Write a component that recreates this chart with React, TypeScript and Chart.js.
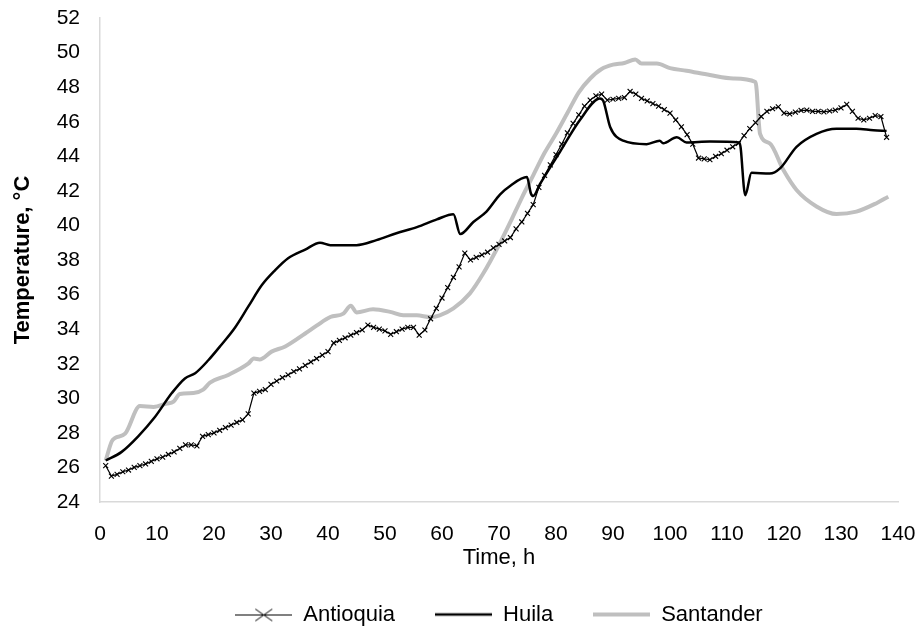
import React, { useEffect, useRef } from "react";
import { Chart, registerables } from "chart.js";

Chart.register(...registerables);

const seriesNames = ["Antioquia", "Huila", "Santander"];

const antioquiaTime = [
  1, 2, 3, 4, 5, 6, 7, 8, 9, 10, 11, 12, 13, 14, 15, 16, 17, 18, 19, 20,
  21, 22, 23, 24, 25, 26, 27, 28, 29, 30, 31, 32, 33, 34, 35, 36, 37, 38, 39, 40,
  41, 42, 43, 44, 45, 46, 47, 48, 49, 50, 51, 52, 53, 54, 55, 56, 57, 58, 59, 60,
  61, 62, 63, 64, 65, 66, 67, 68, 69, 70, 71, 72, 73, 74, 75, 76, 77, 78, 79, 80,
  81, 82, 83, 84, 85, 86, 87, 88, 89, 90, 91, 92, 93, 94, 95, 96, 97, 98, 99, 100,
  101, 102, 103, 104, 105, 106, 107, 108, 109, 110, 111, 112, 113, 114, 115, 116, 117, 118, 119, 120,
  121, 122, 123, 124, 125, 126, 127, 128, 129, 130, 131, 132, 133, 134, 135, 136, 137, 138,
];
const antioquiaTemp = [
  26.1, 25.5, 25.6, 25.75, 25.85, 26.0, 26.1, 26.2, 26.35, 26.5, 26.6, 26.75, 26.9, 27.1, 27.3, 27.3, 27.25, 27.8, 27.9, 28.0,
  28.15, 28.3, 28.45, 28.6, 28.75, 29.1, 30.3, 30.4, 30.5, 30.8, 31.0, 31.2, 31.35, 31.55, 31.7, 31.9, 32.1, 32.3, 32.5, 32.7,
  33.2, 33.35, 33.5, 33.65, 33.8, 33.95, 34.24, 34.1, 34.0, 33.9, 33.7, 33.85, 34.0, 34.1, 34.1, 33.65, 33.95, 34.6, 35.2, 35.8,
  36.4, 37.0, 37.6, 38.4, 38.0, 38.15, 38.3, 38.45, 38.7, 38.9, 39.1, 39.3, 39.8, 40.2, 40.7, 41.2, 42.2, 42.9, 43.5, 44.1,
  44.7, 45.35, 45.9, 46.4, 46.9, 47.25, 47.5, 47.6, 47.25, 47.3, 47.35, 47.4, 47.75, 47.6, 47.35, 47.2, 47.05, 46.9, 46.7, 46.5,
  46.1, 45.7, 45.25, 44.7, 43.9, 43.85, 43.8, 44.0, 44.15, 44.35, 44.55, 44.75, 45.2, 45.6, 45.95, 46.3, 46.6, 46.75, 46.86, 46.5,
  46.45, 46.55, 46.65, 46.67, 46.6, 46.6, 46.57, 46.62, 46.67, 46.8, 47.0, 46.6, 46.2, 46.1, 46.2, 46.35, 46.3, 45.1,
];

const huilaTime = [
  1, 3.8, 6.7, 9.6, 12.6, 14.9, 16.7, 19, 21.3, 23.7, 26, 28.4, 30.7, 33, 36, 38.6, 40.4, 45, 48.5, 52,
  55.6, 59.1, 62, 63.2, 65.5, 67.8, 70.2, 72, 74.9, 75.6, 76, 77.2, 80.7, 84.2, 87.7, 88.3, 89.5, 91.8, 95.9, 98.2,
  98.8, 101.2, 102.9, 107, 112.2, 113.2, 114.3, 117.5, 119.3, 122.2, 125.7, 129.2, 132.7, 135.7, 138,
];
const huilaTemp = [
  26.4, 26.9, 27.8, 28.9, 30.3, 31.15, 31.45, 32.2, 33.1, 34.1, 35.3, 36.55, 37.4, 38.1, 38.6, 39.0, 38.86, 38.86, 39.15, 39.55,
  39.9, 40.35, 40.65, 39.5, 40.2, 40.8, 41.8, 42.3, 42.8, 41.85, 41.7, 42.4, 44.26, 46.1, 47.35, 47.2, 45.7, 44.9, 44.7, 44.9,
  44.75, 45.1, 44.8, 44.85, 44.8, 41.75, 43.05, 43.0, 43.3, 44.55, 45.3, 45.6, 45.6, 45.5, 45.47,
];

const santanderTime = [
  1, 2.05, 2.6, 4.4, 7, 9.4, 11.7, 12.9, 14, 16.4, 18.1, 19.3, 22.5, 26, 27, 28, 30.1, 32.5, 36, 38,
  40.4, 42.7, 44, 45, 47.9, 50.9, 53.2, 55.6, 57.9, 59.6, 62, 64.9, 67.2, 70.2, 72, 74, 76, 78, 80, 82,
  84, 86, 88, 90, 92, 93.9, 95, 97.7, 100, 102.9, 107, 111.1, 115, 115.8, 117.5, 119.9, 122.2, 125.7, 129.2, 132.7,
  136.3, 138.3,
];
const santanderTemp = [
  26.4, 27.5, 27.7, 27.95, 29.55, 29.5, 29.7, 29.8, 30.25, 30.3, 30.5, 30.9, 31.35, 32.0, 32.3, 32.25, 32.7, 33.0, 33.75, 34.2,
  34.7, 34.9, 35.35, 34.97, 35.15, 35.0, 34.8, 34.8, 34.7, 34.8, 35.2, 36.07, 37.2, 39.0, 40.2, 41.6, 42.9, 44.2, 45.3, 46.5,
  47.7, 48.5, 49.05, 49.3, 49.4, 49.6, 49.37, 49.37, 49.1, 48.95, 48.7, 48.5, 48.3, 45.3, 44.75, 43.2, 42.05, 41.1, 40.66, 40.8,
  41.3, 41.66,
];

const xMin = 0;
const xMax = 140;
const xStep = 10;
const yMin = 24;
const yMax = 52;
const yStep = 2;

const xTitle = "Time, h";
const yTitle = "Temperature, °C";

const FONT = "'Liberation Sans', Arial, sans-serif";

function makeIcon(color: string, lw: number, marker: boolean) {
  const c = document.createElement("canvas");
  c.width = 57;
  c.height = 17;
  const ctx = c.getContext("2d")!;
  ctx.strokeStyle = color;
  ctx.lineWidth = lw;
  const mid = lw % 2 === 1 ? 8.5 : 8;
  ctx.beginPath();
  ctx.moveTo(0, mid);
  ctx.lineTo(57, mid);
  ctx.stroke();
  if (marker) {
    ctx.lineWidth = 1;
    ctx.beginPath();
    ctx.moveTo(20, 2.5);
    ctx.lineTo(37, 14.5);
    ctx.moveTo(37, 2.5);
    ctx.lineTo(20, 14.5);
    ctx.stroke();
  }
  return c;
}

export default function App() {
  const ref = useRef<HTMLCanvasElement>(null);

  useEffect(() => {
    if (!ref.current) return;
    const icons = [
      makeIcon("#000000", 1, true),
      makeIcon("#000000", 2.5, false),
      makeIcon("#bfbfbf", 4, false),
    ];
    const toPts = (xs: number[], ys: number[]) => xs.map((x, i) => ({ x, y: ys[i] }));

    const chart = new Chart(ref.current, {
      type: "line",
      data: {
        datasets: [
          {
            label: seriesNames[0],
            data: toPts(antioquiaTime, antioquiaTemp),
            borderColor: "#000000",
            backgroundColor: "#000000",
            borderWidth: 1.2,
            pointStyle: "crossRot",
            pointRadius: 3.5,
            pointBorderWidth: 1.1,
            pointBorderColor: "#000000",
            tension: 0,
          },
          {
            label: seriesNames[1],
            data: toPts(huilaTime, huilaTemp),
            borderColor: "#000000",
            backgroundColor: "#000000",
            borderWidth: 2.5,
            pointRadius: 0,
            cubicInterpolationMode: "monotone",
          },
          {
            label: seriesNames[2],
            data: toPts(santanderTime, santanderTemp),
            borderColor: "#bfbfbf",
            backgroundColor: "#bfbfbf",
            borderWidth: 4,
            pointRadius: 0,
            cubicInterpolationMode: "monotone",
          },
        ],
      },
      options: {
        animation: false,
        responsive: false,
        devicePixelRatio: 1,
        layout: { padding: { top: 18, right: 20, bottom: -7, left: 0 } },
        font: { family: FONT },
        plugins: {
          tooltip: { enabled: false },
          legend: {
            position: "bottom",
            fullSize: false,
            labels: {
              usePointStyle: true,
              pointStyleWidth: 57,
              padding: 40,
              color: "#000000",
              font: { family: FONT, size: 22 },
              generateLabels: (ch: any) =>
                ch.data.datasets.map((ds: any, i: number) => ({
                  text: ds.label,
                  pointStyle: icons[i],
                  fillStyle: ds.borderColor,
                  strokeStyle: ds.borderColor,
                  lineWidth: 0,
                  hidden: false,
                  datasetIndex: i,
                  fontColor: "#000000",
                })),
            },
          },
        },
        scales: {
          x: {
            type: "linear",
            min: xMin,
            max: xMax,
            grid: { display: false, drawTicks: false },
            border: { display: true, color: "#d9d9d9", width: 1.5 },
            ticks: {
              stepSize: xStep,
              padding: 20,
              color: "#000000",
              font: { family: FONT, size: 21 },
              maxRotation: 0,
            },
            title: {
              display: true,
              text: xTitle,
              color: "#000000",
              font: { family: FONT, size: 22 },
              padding: { top: 0, bottom: -7 },
            },
            afterFit: (s: any) => {
              s.height = 62;
              s.paddingLeft = 0;
              s.paddingRight = 0;
            },
          },
          y: {
            type: "linear",
            min: yMin,
            max: yMax,
            grid: { display: false, drawTicks: false },
            border: { display: true, color: "#d9d9d9", width: 1.5 },
            ticks: {
              stepSize: yStep,
              padding: 20,
              color: "#000000",
              font: { family: FONT, size: 21 },
            },
            title: {
              display: true,
              text: yTitle,
              color: "#000000",
              font: { family: FONT, size: 22, weight: "bold" },
              padding: { top: 10, bottom: 0 },
            },
            afterFit: (s: any) => {
              s.width = 100;
              s.paddingTop = 0;
              s.paddingBottom = 0;
            },
          },
        },
      } as any,
    });
    return () => chart.destroy();
  }, []);

  return (
    <div style={{ position: "absolute", left: 0, top: 0, width: 918, height: 629, background: "#fff" }}>
      <canvas ref={ref} width={918} height={629} style={{ display: "block", width: 918, height: 629 }} />
    </div>
  );
}
